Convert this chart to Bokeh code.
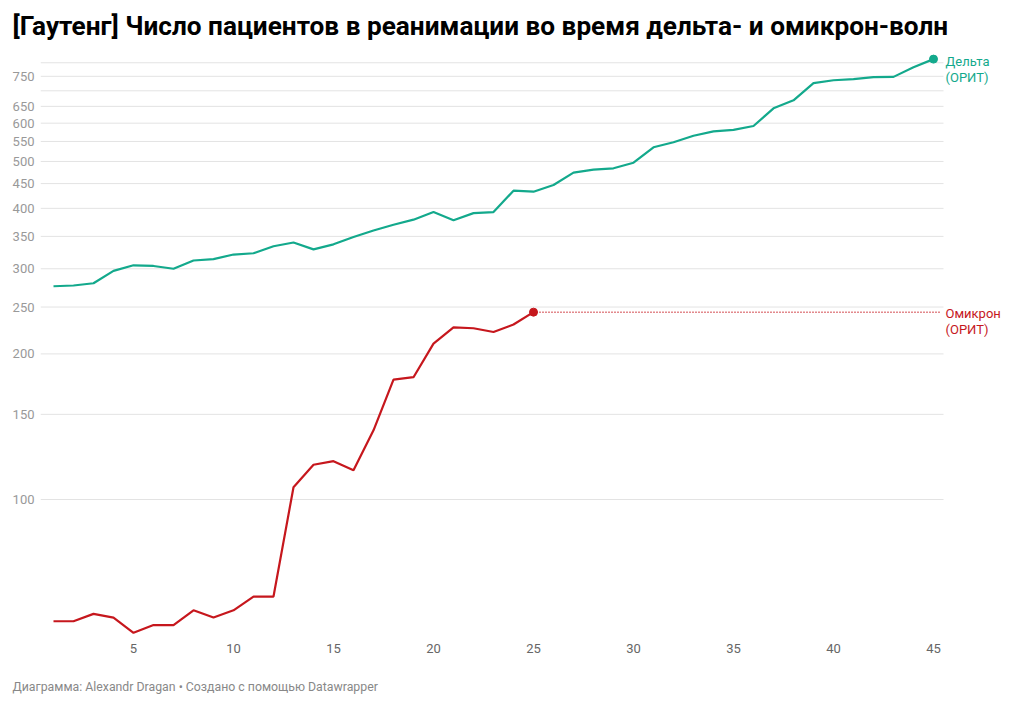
from bokeh.plotting import figure
from bokeh.models import Range1d, FixedTicker, NumeralTickFormatter
from bokeh.layouts import column
from bokeh.core.properties import value
from bokeh.embed import file_html
from bokeh.resources import INLINE

days_delta = list(range(1, 46))
delta = [276, 277, 280, 297, 305, 304, 300, 312, 314, 321,
         323, 334, 340, 329, 337, 349, 360, 370, 379, 393,
         378, 391, 393, 435, 433, 447, 474, 481, 484, 497,
         535, 548, 565, 577, 581, 592, 644, 669, 726, 736,
         740, 747, 748, 783, 814]
days_omicron = list(range(1, 26))
omicron = [56, 56, 58, 57, 53, 55, 55, 59, 57, 59,
           63, 63, 106, 118, 120, 115, 139, 177, 179, 210,
           227, 226, 222, 230, 244]
grid_ticks = [100, 150, 200, 250, 300, 350, 400, 450, 500, 550, 600, 650, 700, 750, 800]
label_ticks = [100, 150, 200, 250, 300, 350, 400, 450, 500, 550, 600, 650, 750]
x_ticks = [5, 10, 15, 20, 25, 30, 35, 40, 45]

title_text = "[Гаутенг] Число пациентов в реанимации во время дельта- и омикрон-волн"
footer_text = "Диаграмма: Alexandr Dragan • Создано с помощью Datawrapper"
delta_label = ["Дельта", "(ОРИТ)"]
omicron_label = ["Омикрон", "(ОРИТ)"]

TEAL = "#13a98c"
RED = "#c6171d"
FONT = "Roboto"

X_START, X_END, GRID_END = 0.35, 48.75, 45.5
Y_START, Y_END = 51.1, 885.2
W, H, FOOT_H = 1008, 673, 32

p = figure(width=W, height=H, y_axis_type="log",
           x_range=Range1d(X_START, X_END), y_range=Range1d(Y_START, Y_END),
           output_backend="svg", toolbar_location=None,
           min_border_left=40, min_border_right=0,
           min_border_top=41, min_border_bottom=33)
p.outline_line_color = None
p.background_fill_color = "white"
p.border_fill_color = "white"

p.title.text = title_text
p.title.text_font = FONT
p.title.text_font_style = "bold"
p.title.text_font_size = "26.2px"
p.title.text_color = "#000000"
p.title.align = "left"
p.title.offset = -28
p.title.standoff = 2

# axes
p.xaxis.ticker = FixedTicker(ticks=x_ticks)
p.xaxis.axis_line_color = None
p.xaxis.major_tick_line_color = None
p.xaxis.minor_tick_line_color = None
p.xaxis.major_tick_out = 0
p.xaxis.major_tick_in = 0
p.xaxis.major_label_text_font = FONT
p.xaxis.major_label_text_font_size = "13px"
p.xaxis.major_label_text_color = "#666666"
p.xaxis.major_label_standoff = 3

p.yaxis.ticker = FixedTicker(ticks=label_ticks)
p.yaxis.formatter = NumeralTickFormatter(format="0")
p.yaxis.axis_line_color = None
p.yaxis.major_tick_line_color = None
p.yaxis.minor_tick_line_color = None
p.yaxis.major_tick_out = 0
p.yaxis.major_tick_in = 0
p.yaxis.major_label_text_font = FONT
p.yaxis.major_label_text_font_size = "13px"
p.yaxis.major_label_text_color = "#999999"
p.yaxis.major_label_standoff = 6

p.xgrid.grid_line_color = None
p.ygrid.grid_line_color = None

# horizontal gridlines (end before the line labels)
p.segment(x0=[X_START] * len(grid_ticks), y0=grid_ticks,
          x1=[GRID_END] * len(grid_ticks), y1=grid_ticks,
          line_color="#e3e3e3", line_width=1)

# lines
p.line(days_delta, delta, line_color=TEAL, line_width=2.2)
p.scatter([days_delta[-1]], [delta[-1]], size=8, color=TEAL)

p.segment(x0=[days_omicron[-1]], y0=[omicron[-1]], x1=[GRID_END - 0.1], y1=[omicron[-1]],
          line_color=RED, line_width=1.5, line_dash="1 2")
p.line(days_omicron, omicron, line_color=RED, line_width=2.2)
p.scatter([days_omicron[-1]], [omicron[-1]], size=8, color=RED)

lx = GRID_END + 0.1
p.text(x=[lx, lx], y=[delta[-1], delta[-1]], text=delta_label, y_offset=[2, 18],
       text_font=value(FONT), text_font_size="13px", text_color=TEAL,
       text_baseline="middle", text_align="left")
p.text(x=[lx, lx], y=[omicron[-1], omicron[-1]], text=omicron_label, y_offset=[1, 17],
       text_font=value(FONT), text_font_size="13px", text_color=RED,
       text_baseline="middle", text_align="left")

# footer strip (its frame lines up with the chart frame; the note is its title)
f = figure(width=W, height=FOOT_H, x_range=Range1d(0, 1), y_range=Range1d(0, 1),
           output_backend="svg", toolbar_location=None,
           x_axis_location=None, y_axis_location=None,
           min_border_left=40, min_border_right=0, min_border_top=21, min_border_bottom=0)
f.outline_line_color = None
f.xgrid.grid_line_color = None
f.ygrid.grid_line_color = None
f.background_fill_color = "white"
f.border_fill_color = "white"
f.title.text = footer_text
f.title.text_font = FONT
f.title.text_font_style = "normal"
f.title.text_font_size = "12.3px"
f.title.text_color = "#888888"
f.title.align = "left"
f.title.offset = -28
f.title.standoff = 2
f.line([0, 1], [0, 0], line_alpha=0)

layout = column(p, f, spacing=0)
open("out.html", "w").write(file_html(layout, INLINE))
